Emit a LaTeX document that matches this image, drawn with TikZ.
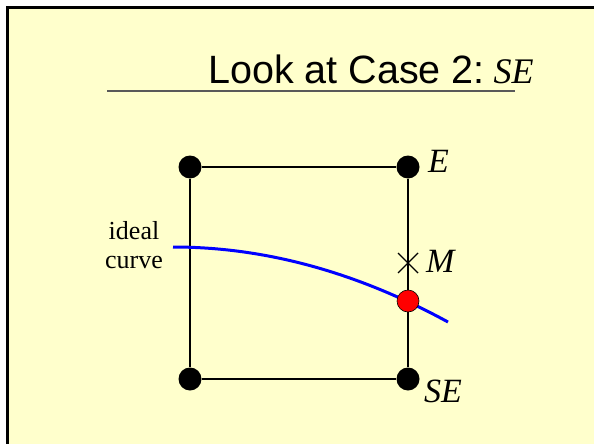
\documentclass[tikz,border=0pt]{standalone}
\usepackage{fontspec}
\setmainfont{Liberation Serif}
\newfontfamily\sansf{Liberation Sans}
\definecolor{slidebg}{RGB}{255,255,204}
\begin{document}
\begin{tikzpicture}[x=1pt,y=-1pt,
  dot/.style={circle,fill=black,inner sep=0pt,minimum size=23pt},
  reddot/.style={circle,fill=red,draw=black,line width=0.6pt,inner sep=0pt,minimum size=22pt},
  gridline/.style={line width=2pt,black},
  lbl/.style={anchor=base west,inner sep=0pt,font=\fontsize{34}{40}\selectfont\itshape},
  curvestyle/.style={blue,line width=3pt},
  crossline/.style={line width=1.4pt,black}]
\clip (0,0) rectangle (594,444);
\fill[white] (0,0) rectangle (594,444);
\draw[line width=3pt,fill=slidebg] (7,8) rectangle (620,470);
% title
\node[anchor=base west,inner sep=0pt] (title) at (208,83)
  {\sansf\fontsize{39.5}{46}\selectfont Look at Case 2:\hspace{0.22em}\rmfamily\fontsize{36}{42}\selectfont\itshape SE};
\coordinate (ulA) at (107,91);
\coordinate (ulB) at (515,91);
\draw[line width=1.8pt,black!65] (ulA) -- (ulB);
% grid points
\node[dot] (nw) at (190,167) {};
\node[dot] (ne) at (408,167) {};
\node[dot] (sw) at (190,379) {};
\node[dot] (se) at (408,379) {};
\draw[gridline] (nw) -- (ne);
\draw[gridline] (nw) -- (sw);
\draw[gridline] (sw) -- (se);
\draw[gridline] (ne) -- (se);
% ideal curve
\coordinate (cA) at (173,247);
\coordinate (cB) at (448,322);
\draw[curvestyle] (cA) .. controls (264.67,247) and (356.33,272) .. (cB);
% midpoint cross
\coordinate (M) at (408,263);
\draw[crossline] ([shift={(-10,-10)}]M) -- ([shift={(10,10)}]M);
\draw[crossline] ([shift={(-10,10)}]M) -- ([shift={(10,-10)}]M);
% red intersection
\node[reddot] (hit) at (408,301) {};
% labels
\node[lbl] (lE) at (428,172) {E};
\node[lbl] (lM) at (426,272) {M};
\node[lbl] (lSE) at (424,402) {SE};
\node[align=center,inner sep=0pt,font=\fontsize{26}{29}\selectfont,anchor=base] (ideal) at (134,268) {ideal\\curve};
\end{tikzpicture}
\end{document}
